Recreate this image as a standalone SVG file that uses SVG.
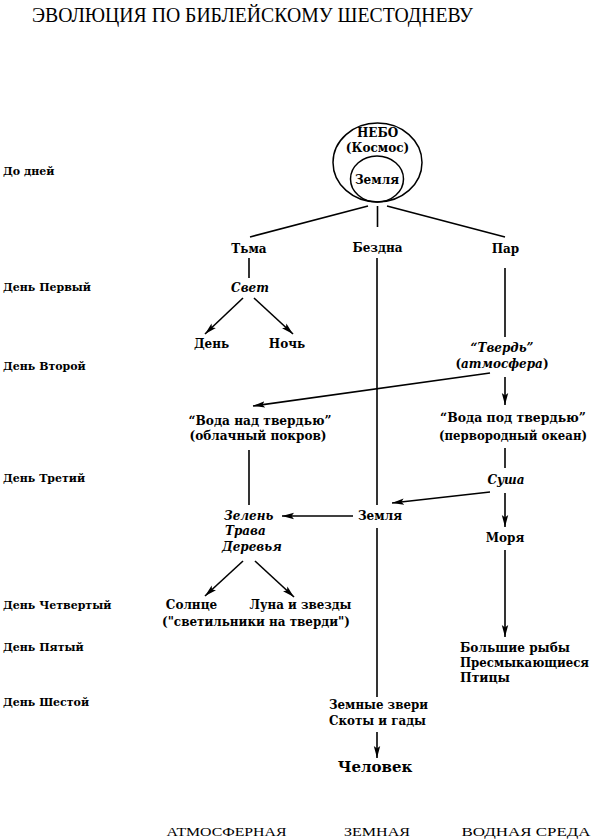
<svg xmlns="http://www.w3.org/2000/svg" width="591" height="840" viewBox="0 0 591 840">
<defs>
<marker id="arr" viewBox="0 0 12 8" refX="12" refY="4" markerWidth="12" markerHeight="8" markerUnits="userSpaceOnUse" orient="auto">
<path d="M0,0.8 L12,4 L0,7.2 L2.5,4 Z" fill="#000"/>
</marker>
<style>
.t{font-family:"DejaVu Serif","Liberation Serif",serif;font-weight:bold;font-size:11px;fill:#000}
.n{font-family:"DejaVu Serif","Liberation Serif",serif;font-weight:bold;font-size:12px;fill:#000;text-anchor:middle}
.l{text-anchor:start}
.i{font-style:italic}
.h{font-family:"Liberation Serif","Times New Roman",serif;font-size:20px;fill:#000}
.b{font-family:"Liberation Serif","Times New Roman",serif;font-size:13px;fill:#000}
.c line{stroke:#000;stroke-width:1.6;fill:none}
.c line.a{marker-end:url(#arr)}
.o{fill:none;stroke:#000;stroke-width:1.5}
</style>
</defs>
<rect width="591" height="840" fill="#fff"/>
<text id="title" class="h" x="32" y="22" textLength="441" lengthAdjust="spacingAndGlyphs">ЭВОЛЮЦИЯ ПО БИБЛЕЙСКОМУ ШЕСТОДНЕВУ</text>
<g id="days">
<text class="t" x="3" y="175">До дней</text>
<text class="t" x="3" y="291">День Первый</text>
<text class="t" x="3" y="370">День Второй</text>
<text class="t" x="3" y="482">День Третий</text>
<text class="t" x="3" y="609">День Четвертый</text>
<text class="t" x="3" y="651">День Пятый</text>
<text class="t" x="3" y="706">День Шестой</text>
</g>
<g id="nebo">
<ellipse class="o" cx="377.5" cy="162.5" rx="44.5" ry="39.5"/>
<text class="n" x="377.5" y="137">НЕБО</text>
<text class="n" x="377.5" y="152">(Космос)</text>
</g>
<g id="zemlya0">
<ellipse class="o" cx="377" cy="179" rx="26.5" ry="23"/>
<text class="n" x="377" y="184">Земля</text>
</g>
<g id="tma"><text class="n" x="249" y="253">Тьма</text></g>
<g id="bezdna"><text class="n" x="377.5" y="252">Бездна</text></g>
<g id="par"><text class="n" x="505.5" y="253">Пар</text></g>
<g id="svet"><text class="n i" x="250" y="292">Свет</text></g>
<g id="den"><text class="n" x="211.5" y="348">День</text></g>
<g id="noch"><text class="n" x="287" y="348">Ночь</text></g>
<g id="tverd">
<text class="n i" x="502" y="352">“Твердь”</text>
<text class="n" x="502" y="367.5">(<tspan class="i">атмосфера</tspan>)</text>
</g>
<g id="voda-nad">
<text class="n" x="260" y="424.5" textLength="143" lengthAdjust="spacingAndGlyphs">“Вода над твердью”</text>
<text class="n" x="258" y="439.5" textLength="137" lengthAdjust="spacingAndGlyphs">(облачный покров)</text>
</g>
<g id="voda-pod">
<text class="n" x="513" y="422" textLength="146" lengthAdjust="spacingAndGlyphs">“Вода под твердью”</text>
<text class="n" x="513" y="440" textLength="148" lengthAdjust="spacingAndGlyphs">(первородный океан)</text>
</g>
<g id="susha"><text class="n i" x="506" y="483.5">Суша</text></g>
<g id="zemlya"><text class="n" x="380" y="520">Земля</text></g>
<g id="zelen">
<text class="n l i" x="224" y="519.5">Зелень</text>
<text class="n l i" x="225" y="535">Трава</text>
<text class="n l i" x="222" y="551">Деревья</text>
</g>
<g id="morya"><text class="n" x="505" y="542">Моря</text></g>
<g id="solnce"><text class="n" x="191.5" y="608.5">Солнце</text></g>
<g id="luna"><text class="n" x="300.5" y="608.5" textLength="102" lengthAdjust="spacingAndGlyphs">Луна и звезды</text></g>
<g id="svetilniki"><text class="n" x="256" y="626" textLength="188" lengthAdjust="spacingAndGlyphs">("светильники на тверди")</text></g>
<g id="ryby">
<text class="n l" x="460" y="652" textLength="110" lengthAdjust="spacingAndGlyphs">Большие рыбы</text>
<text class="n l" x="460" y="666.5" textLength="129" lengthAdjust="spacingAndGlyphs">Пресмыкающиеся</text>
<text class="n l" x="460" y="682" textLength="50" lengthAdjust="spacingAndGlyphs">Птицы</text>
</g>
<g id="zveri">
<text class="n l" x="329" y="709" textLength="99" lengthAdjust="spacingAndGlyphs">Земные звери</text>
<text class="n l" x="329" y="724.5" textLength="97" lengthAdjust="spacingAndGlyphs">Скоты и гады</text>
</g>
<g id="chelovek"><text class="n" x="375" y="772" style="font-size:15px">Человек</text></g>
<g id="sreda">
<text class="b" x="166.5" y="836" textLength="120" lengthAdjust="spacingAndGlyphs">АТМОСФЕРНАЯ</text>
<text class="b" x="344" y="836" textLength="66" lengthAdjust="spacingAndGlyphs">ЗЕМНАЯ</text>
<text class="b" x="461.5" y="836" textLength="129" lengthAdjust="spacingAndGlyphs">ВОДНАЯ СРЕДА</text>
</g>
<g id="connectors" class="c">
<line x1="368" y1="206" x2="250" y2="237"/>
<line x1="377.5" y1="206" x2="377.5" y2="227"/>
<line x1="387" y1="206" x2="505" y2="237"/>
<line x1="249" y1="258" x2="249" y2="278"/>
<line class="a" x1="243" y1="298" x2="205" y2="334"/>
<line class="a" x1="254" y1="298" x2="293" y2="334"/>
<line x1="377" y1="258" x2="377" y2="505"/>
<line x1="505" y1="268" x2="505" y2="337"/>
<line class="a" x1="490" y1="373" x2="253" y2="406"/>
<line class="a" x1="505" y1="377" x2="505" y2="405"/>
<line x1="505" y1="448" x2="505" y2="468"/>
<line class="a" x1="490" y1="492" x2="392" y2="503"/>
<line class="a" x1="505" y1="493" x2="505" y2="527"/>
<line x1="249" y1="450" x2="249" y2="505"/>
<line class="a" x1="353" y1="516" x2="282" y2="516"/>
<line class="a" x1="243" y1="561" x2="205" y2="596"/>
<line class="a" x1="255" y1="561" x2="294" y2="597"/>
<line class="a" x1="505" y1="550" x2="505" y2="637"/>
<line x1="377" y1="528" x2="377" y2="697"/>
<line class="a" x1="377" y1="732" x2="377" y2="758"/>
</g>
</svg>
